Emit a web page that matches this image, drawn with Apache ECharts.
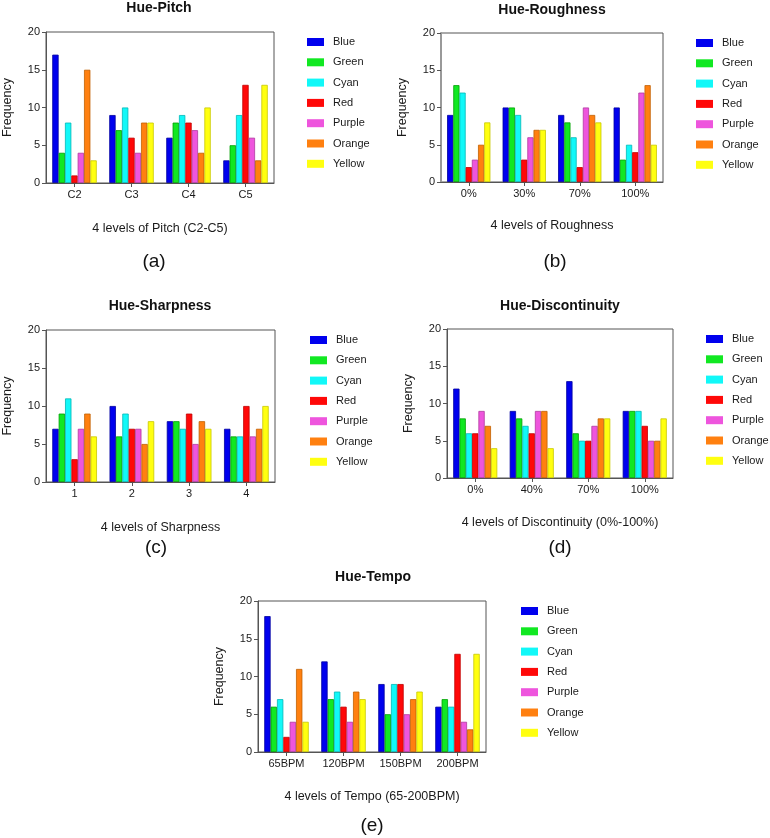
<!DOCTYPE html>
<html>
<head>
<meta charset="utf-8">
<script src="https://cdn.jsdelivr.net/npm/echarts@6/dist/echarts.min.js"></script>
<style>html,body{margin:0;padding:0;background:#fff}#c{width:770px;height:838px}</style>
</head>
<body>
<div id="c"></div>
<script>
// ---- data ----
const hueNames = ['Blue', 'Green', 'Cyan', 'Red', 'Purple', 'Orange', 'Yellow'];
const yTicks = [0, 5, 10, 15, 20];

const pitchCats = ['C2', 'C3', 'C4', 'C5'];
const pitchBlue = [17, 9, 6, 3];
const pitchGreen = [4, 7, 8, 5];
const pitchCyan = [8, 10, 9, 9];
const pitchRed = [1, 6, 8, 13];
const pitchPurple = [4, 4, 7, 6];
const pitchOrange = [15, 8, 4, 3];
const pitchYellow = [3, 8, 10, 13];

const roughCats = ['0%', '30%', '70%', '100%'];
const roughBlue = [9, 10, 9, 10];
const roughGreen = [13, 10, 8, 3];
const roughCyan = [12, 9, 6, 5];
const roughRed = [2, 3, 2, 4];
const roughPurple = [3, 6, 10, 12];
const roughOrange = [5, 7, 9, 13];
const roughYellow = [8, 7, 8, 5];

const sharpCats = ['1', '2', '3', '4'];
const sharpBlue = [7, 10, 8, 7];
const sharpGreen = [9, 6, 8, 6];
const sharpCyan = [11, 9, 7, 6];
const sharpRed = [3, 7, 9, 10];
const sharpPurple = [7, 7, 5, 6];
const sharpOrange = [9, 5, 8, 7];
const sharpYellow = [6, 8, 7, 10];

const discCats = ['0%', '40%', '70%', '100%'];
const discBlue = [12, 9, 13, 9];
const discGreen = [8, 8, 6, 9];
const discCyan = [6, 7, 5, 9];
const discRed = [6, 6, 5, 7];
const discPurple = [9, 9, 7, 5];
const discOrange = [7, 9, 8, 5];
const discYellow = [4, 4, 8, 8];

const tempoCats = ['65BPM', '120BPM', '150BPM', '200BPM'];
const tempoBlue = [18, 12, 9, 6];
const tempoGreen = [6, 7, 5, 7];
const tempoCyan = [7, 8, 9, 6];
const tempoRed = [2, 6, 9, 13];
const tempoPurple = [4, 4, 5, 4];
const tempoOrange = [11, 8, 7, 3];
const tempoYellow = [4, 7, 8, 13];

const panelTitles = ['Hue-Pitch', 'Hue-Roughness', 'Hue-Sharpness', 'Hue-Discontinuity', 'Hue-Tempo'];
const panelXNames = ['4 levels of Pitch (C2-C5)', '4 levels of Roughness', '4 levels of Sharpness',
  '4 levels of Discontinuity (0%-100%)', '4 levels of Tempo (65-200BPM)'];
const panelCaptions = ['(a)', '(b)', '(c)', '(d)', '(e)'];
const panelCats = [pitchCats, roughCats, sharpCats, discCats, tempoCats];
const panelValues = [
  [pitchBlue, pitchGreen, pitchCyan, pitchRed, pitchPurple, pitchOrange, pitchYellow],
  [roughBlue, roughGreen, roughCyan, roughRed, roughPurple, roughOrange, roughYellow],
  [sharpBlue, sharpGreen, sharpCyan, sharpRed, sharpPurple, sharpOrange, sharpYellow],
  [discBlue, discGreen, discCyan, discRed, discPurple, discOrange, discYellow],
  [tempoBlue, tempoGreen, tempoCyan, tempoRed, tempoPurple, tempoOrange, tempoYellow]
];

// ---- styles & layout ----
const fillColors = ['#0000ee', '#11e822', '#11f8f8', '#ff0808', '#ee55dd', '#ff8010', '#ffff10'];
const edgeColors = ['#0000a0', '#00a000', '#00b8b8', '#c00000', '#b03aa0', '#c06000', '#c8c800'];
const FONT = 'Liberation Sans, Arial, sans-serif';
const TXT = '#1a1a1a';

// grid boxes: left, top, width, height
const grids = [
  {left: 45, top: 32, width: 229, height: 151},
  {left: 441, top: 33, width: 222, height: 149},
  {left: 45, top: 330, width: 230, height: 152},
  {left: 447, top: 329, width: 226, height: 149},
  {left: 258, top: 601, width: 228, height: 151}
];
const titlePos = [[159, 8], [552, 10], [160, 306], [560, 306], [373, 577]];
const captionPos = [[154, 262], [555, 262], [156, 548], [560, 548], [372, 826]];
const legendPos = [[307, 36], [696, 37], [310, 334], [706, 333], [521, 605]];
const xNameGaps = [39, 37, 39, 38, 38];
const leftAxisStyle = [
  {color: '#555', width: 1}, {color: '#999', width: 2}, {color: '#555', width: 1},
  {color: '#555', width: 1}, {color: '#555', width: 1}
];

const option = {
  backgroundColor: '#fff',
  animation: false,
  grid: [], xAxis: [], yAxis: [], series: [], legend: [], graphic: []
};

grids.forEach((g, i) => {
  option.grid.push(Object.assign({show: true, borderColor: '#555', borderWidth: 1, containLabel: false}, g));
  option.xAxis.push({
    type: 'category', gridIndex: i, data: panelCats[i],
    name: panelXNames[i], nameLocation: 'middle', nameGap: xNameGaps[i],
    nameTextStyle: {fontFamily: FONT, fontSize: 12.5, color: TXT},
    axisLine: {show: true, lineStyle: {color: '#555', width: 1}},
    axisTick: {show: true, alignWithLabel: true, length: 4, lineStyle: {color: '#555'}},
    axisLabel: {fontFamily: FONT, fontSize: 11, color: TXT, margin: 6},
    splitLine: {show: false}
  });
  option.yAxis.push({
    type: 'value', gridIndex: i, min: yTicks[0], max: yTicks[yTicks.length - 1], interval: yTicks[1] - yTicks[0],
    name: 'Frequency', nameLocation: 'middle', nameGap: 32, nameRotate: 90,
    nameTextStyle: {fontFamily: FONT, fontSize: 12.5, color: TXT},
    axisLine: {show: true, lineStyle: leftAxisStyle[i]},
    axisTick: {show: true, length: 4, lineStyle: {color: '#555'}},
    axisLabel: {fontFamily: FONT, fontSize: 11, color: TXT, margin: 6},
    splitLine: {show: false}
  });
  panelValues[i].forEach((vals, k) => {
    option.series.push({
      type: 'bar', name: hueNames[k], xAxisIndex: i, yAxisIndex: i, data: vals,
      barGap: '0%', barCategoryGap: '22%',
      itemStyle: {color: fillColors[k], borderColor: edgeColors[k], borderWidth: 0.8}
    });
  });
  option.legend.push({
    data: hueNames, orient: 'vertical', left: legendPos[i][0], top: legendPos[i][1],
    itemWidth: 17, itemHeight: 8, itemGap: 8.3, padding: 0, selectedMode: false,
    icon: 'rect',
    itemStyle: {borderWidth: 0},
    textStyle: {fontFamily: FONT, fontSize: 11, color: TXT, lineHeight: 12, padding: [0, 0, 0, 4]}
  });
  option.graphic.push({
    type: 'text', x: titlePos[i][0], y: titlePos[i][1],
    style: {text: panelTitles[i], fill: '#111', font: 'bold 14px ' + FONT, textAlign: 'center', textVerticalAlign: 'middle'}
  });
  option.graphic.push({
    type: 'text', x: captionPos[i][0], y: captionPos[i][1],
    style: {text: panelCaptions[i], fill: '#111', font: '19px ' + FONT, textAlign: 'center', textVerticalAlign: 'middle'}
  });
});

const chart = echarts.init(document.getElementById('c'), null, {renderer: 'canvas'});
chart.setOption(option);
</script>
</body>
</html>
